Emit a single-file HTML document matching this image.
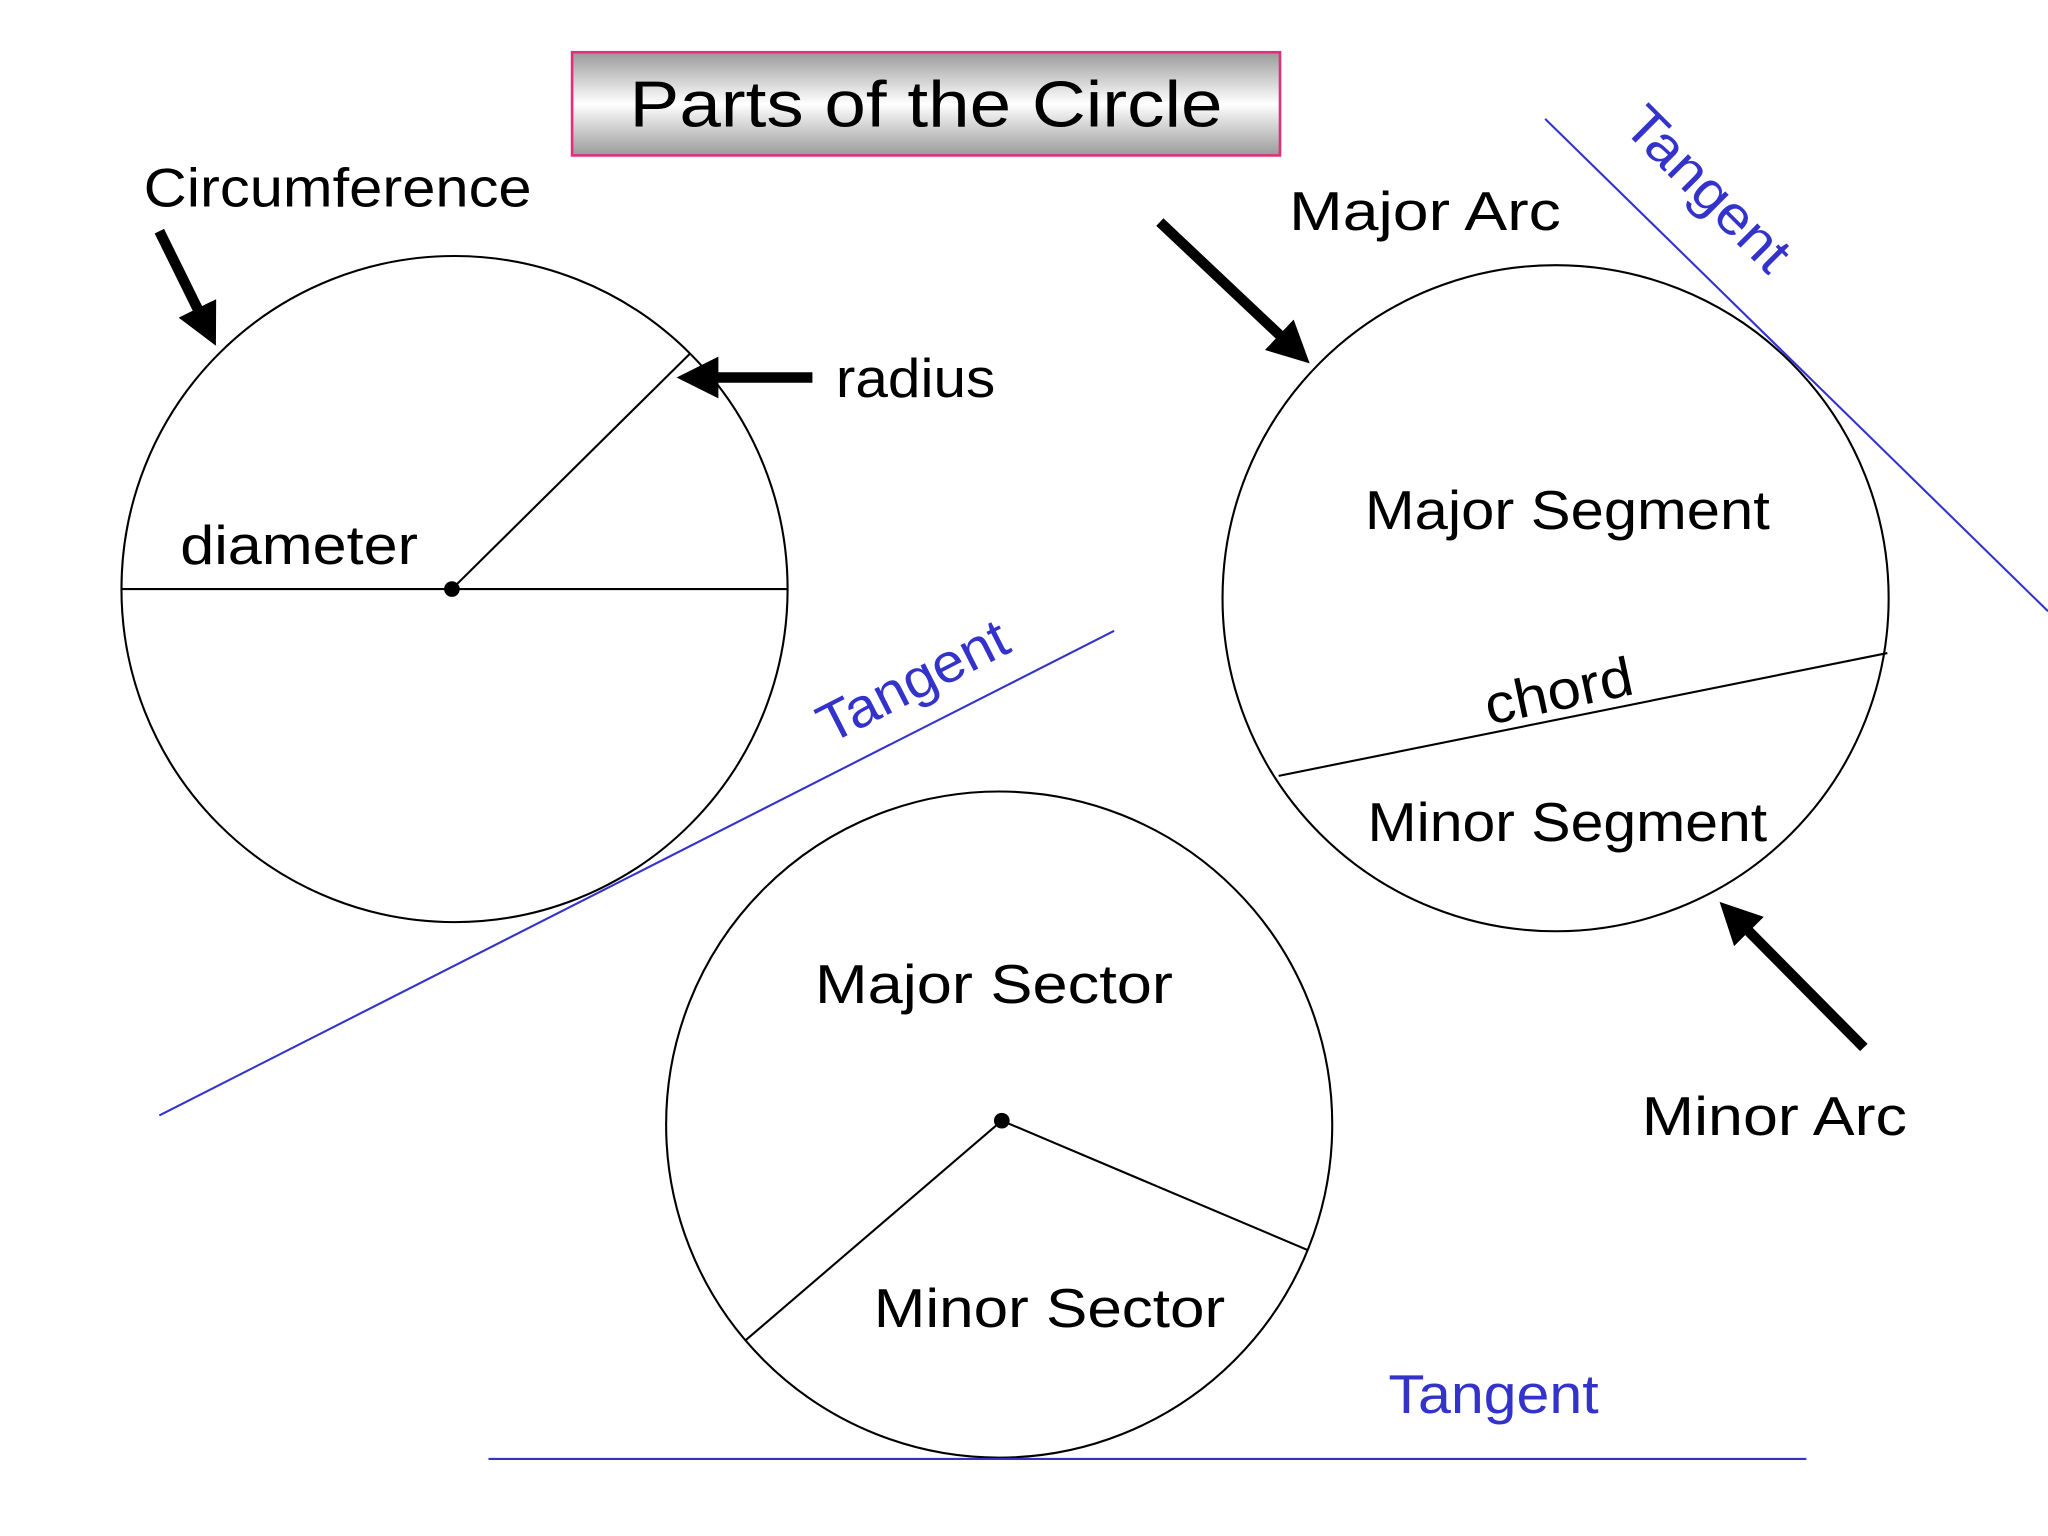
<!DOCTYPE html>
<html><head><meta charset="utf-8">
<style>
html,body{margin:0;padding:0;background:#fff;}
svg{display:block;}
text{font-family:"Comic Sans MS","Liberation Sans",sans-serif;}
</style></head>
<body>
<svg width="2048" height="1536" viewBox="0 0 1568 1176" preserveAspectRatio="none" xmlns="http://www.w3.org/2000/svg">
<defs>
<linearGradient id="g" x1="0" y1="0" x2="0" y2="1">
<stop offset="0" stop-color="#9a9a9a"/>
<stop offset="0.5" stop-color="#ffffff"/>
<stop offset="1" stop-color="#9a9a9a"/>
</linearGradient>
<marker id="ah" markerWidth="4" markerHeight="4" refX="2.5" refY="2" orient="auto" markerUnits="strokeWidth">
<path d="M0,0 L4,2 L0,4 z" fill="#000"/>
</marker>
</defs>
<rect width="1568" height="1176" fill="#fff"/>
<rect x="438" y="40" width="542" height="79" fill="url(#g)" stroke="#e0307a" stroke-width="2"/>
<text x="482" y="97" font-size="50" textLength="454" lengthAdjust="spacingAndGlyphs">Parts of the Circle</text>

<circle cx="348" cy="451" r="255" fill="none" stroke="#000" stroke-width="1.6"/>
<line x1="93" y1="451" x2="603" y2="451" stroke="#000" stroke-width="1.6"/>
<line x1="346" y1="451" x2="528" y2="271" stroke="#000" stroke-width="1.6"/>
<circle cx="346" cy="451" r="6" fill="#000"/>
<text x="110" y="158" font-size="42" textLength="297" lengthAdjust="spacingAndGlyphs">Circumference</text>
<line x1="122" y1="177" x2="160" y2="254" stroke="#000" stroke-width="8" marker-end="url(#ah)"/>
<line x1="622" y1="289" x2="530" y2="289" stroke="#000" stroke-width="8" marker-end="url(#ah)"/>
<text x="640" y="304" font-size="42" textLength="122" lengthAdjust="spacingAndGlyphs">radius</text>
<text x="138" y="432" font-size="42" textLength="182" lengthAdjust="spacingAndGlyphs">diameter</text>

<line x1="122" y1="854" x2="853" y2="483" stroke="#3333cc" stroke-width="1.6"/>
<text x="0" y="0" font-size="42" fill="#3333cc" textLength="158" lengthAdjust="spacingAndGlyphs" transform="translate(635,570) rotate(-27)">Tangent</text>

<circle cx="1191" cy="458" r="255" fill="none" stroke="#000" stroke-width="1.6"/>
<line x1="979" y1="594" x2="1445" y2="500" stroke="#000" stroke-width="1.6"/>
<line x1="1183" y1="91" x2="1568" y2="468" stroke="#3333cc" stroke-width="1.6"/>
<text x="0" y="0" font-size="42" fill="#3333cc" textLength="160" lengthAdjust="spacingAndGlyphs" transform="translate(1241,98) rotate(45)">Tangent</text>
<text x="987" y="176" font-size="42" textLength="208" lengthAdjust="spacingAndGlyphs">Major Arc</text>
<line x1="888" y1="170" x2="994" y2="270" stroke="#000" stroke-width="8" marker-end="url(#ah)"/>
<text x="1045" y="405" font-size="42" textLength="310" lengthAdjust="spacingAndGlyphs">Major Segment</text>
<text x="0" y="0" font-size="42" textLength="115" lengthAdjust="spacingAndGlyphs" transform="translate(1140,555) rotate(-12)">chord</text>
<text x="1047" y="644" font-size="42" textLength="306" lengthAdjust="spacingAndGlyphs">Minor Segment</text>
<line x1="1427" y1="802" x2="1325" y2="699" stroke="#000" stroke-width="8" marker-end="url(#ah)"/>
<text x="1257" y="869" font-size="42" textLength="203" lengthAdjust="spacingAndGlyphs">Minor Arc</text>

<circle cx="765" cy="861" r="255" fill="none" stroke="#000" stroke-width="1.6"/>
<line x1="767" y1="858" x2="571" y2="1026" stroke="#000" stroke-width="1.6"/>
<line x1="767" y1="858" x2="1001" y2="957" stroke="#000" stroke-width="1.6"/>
<circle cx="767" cy="858" r="6" fill="#000"/>
<text x="624" y="768" font-size="42" textLength="274" lengthAdjust="spacingAndGlyphs">Major Sector</text>
<text x="669" y="1016" font-size="42" textLength="269" lengthAdjust="spacingAndGlyphs">Minor Sector</text>
<line x1="374" y1="1117" x2="1383" y2="1117" stroke="#3333cc" stroke-width="1.6"/>
<text x="1063" y="1082" font-size="42" fill="#3333cc" textLength="161" lengthAdjust="spacingAndGlyphs">Tangent</text>
</svg>
</body></html>
